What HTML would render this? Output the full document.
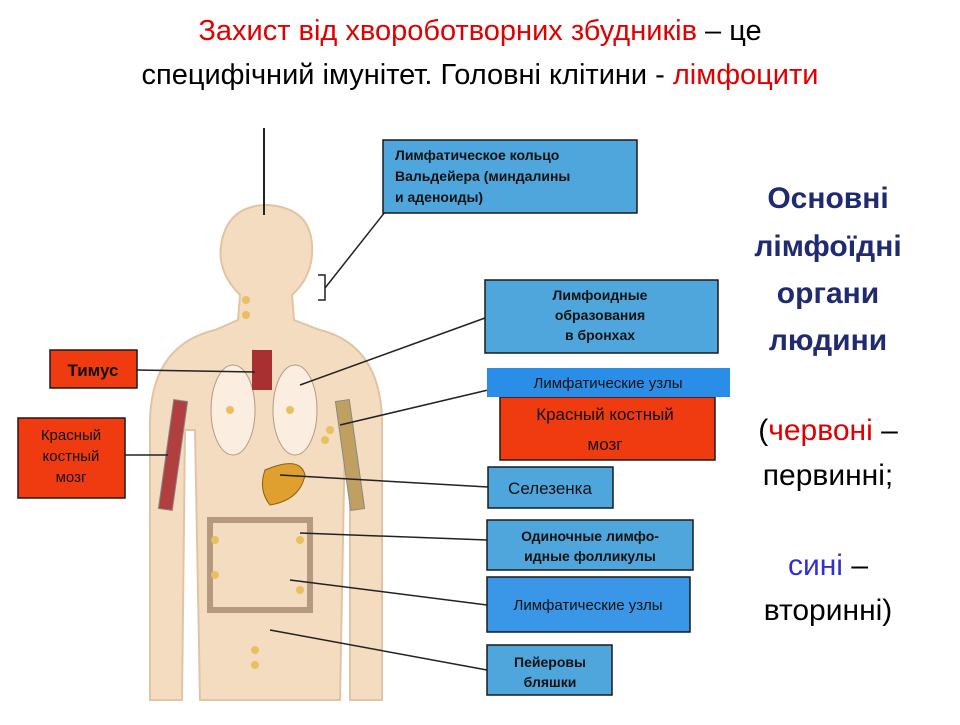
<!DOCTYPE html>
<html><head><meta charset="utf-8"><style>
body{margin:0;background:#fff;width:960px;height:720px;overflow:hidden;font-family:"Liberation Sans",sans-serif}
</style></head><body>
<svg width="960" height="720" xmlns="http://www.w3.org/2000/svg" font-family="Liberation Sans, sans-serif">
<text x="480" y="40" font-size="29" text-anchor="middle"><tspan fill="#e00000">Захист від хвороботворних збудників</tspan> – це</text>
<text x="480" y="84" font-size="29" text-anchor="middle">специфічний імунітет. Головні клітини - <tspan fill="#e00000">лімфоцити</tspan></text>
<!-- body -->
<g fill="#f3dcc0" stroke="#e2c4a4" stroke-width="2">
<path d="M150 700 L150 420 Q152 345 215 330 L238 320 L240 295 Q215 270 222 240 Q230 205 268 205 Q310 208 312 245 Q314 275 292 295 L294 320 L320 330 Q380 345 382 420 L382 700 L350 700 L350 430 L345 430 L340 700 L330 700 L330 700 L200 700 L195 430 L185 430 L182 700 Z"/>
</g>
<line x1="264" y1="128" x2="264" y2="215" stroke="#222" stroke-width="2"/>
<!-- lungs -->
<ellipse cx="233" cy="410" rx="22" ry="45" fill="#fbeee0" stroke="#b59a80"/>
<ellipse cx="295" cy="410" rx="22" ry="45" fill="#fbeee0" stroke="#b59a80"/>
<rect x="252" y="350" width="20" height="40" fill="#a83030"/>
<path d="M265 470 Q300 455 305 475 Q300 500 270 505 Q258 490 265 470Z" fill="#e0a030" stroke="#8a6010"/>
<rect x="210" y="520" width="100" height="90" fill="none" stroke="#b59a80" stroke-width="6"/>
<rect x="166" y="400" width="14" height="110" fill="#b04040" stroke="#888" transform="rotate(8 173 455)"/>
<rect x="343" y="400" width="14" height="110" fill="#c0a060" stroke="#888" transform="rotate(-8 350 455)"/>
<g fill="#e8c060">
<circle cx="246" cy="300" r="4"/><circle cx="246" cy="315" r="4"/><circle cx="230" cy="410" r="4"/><circle cx="290" cy="410" r="4"/><circle cx="330" cy="430" r="4"/><circle cx="325" cy="440" r="4"/><circle cx="215" cy="540" r="4"/><circle cx="300" cy="540" r="4"/><circle cx="215" cy="575" r="4"/><circle cx="300" cy="590" r="4"/><circle cx="255" cy="650" r="4"/><circle cx="255" cy="665" r="4"/>
</g>
<!-- connectors -->
<g stroke="#222" stroke-width="1.5" fill="none">
<path d="M318 275 L325 275 L325 300 L318 300"/>
<line x1="325" y1="288" x2="385" y2="212"/>
<line x1="300" y1="385" x2="485" y2="318"/>
<line x1="340" y1="425" x2="488" y2="390"/>
<line x1="280" y1="475" x2="488" y2="487"/>
<line x1="300" y1="533" x2="487" y2="540"/>
<line x1="290" y1="580" x2="487" y2="605"/>
<line x1="270" y1="630" x2="487" y2="670"/>
<line x1="137" y1="370" x2="255" y2="372"/>
<line x1="125" y1="455" x2="168" y2="455"/>
</g>
<!-- boxes -->
<g stroke="#1a1a1a" stroke-width="1.5">
<rect x="383" y="140" width="254" height="73" fill="#4ea6dc"/>
<rect x="485" y="280" width="233" height="73" fill="#4ea6dc"/>
<rect x="500" y="397" width="215" height="63" fill="#f03a10"/>
<rect x="487" y="368" width="243" height="29" fill="#2a8ee8" stroke="none"/>
<rect x="488" y="467" width="125" height="41" fill="#4ea6dc"/>
<rect x="487" y="520" width="206" height="50" fill="#4ea6dc"/>
<rect x="487" y="577" width="203" height="55" fill="#3a96e6"/>
<rect x="487" y="645" width="125" height="50" fill="#4ea6dc"/>
<rect x="50" y="350" width="87" height="38" fill="#f03a10"/>
<rect x="18" y="418" width="107" height="80" fill="#f03a10"/>
</g>
<g font-size="14" font-weight="bold" fill="#111" text-anchor="middle">
<text x="500" y="160" text-anchor="start" x="395"><tspan x="395" text-anchor="start">Лимфатическое кольцо</tspan><tspan x="395" dy="21">Вальдейера (миндалины</tspan><tspan x="395" dy="21">и аденоиды)</tspan></text>
<text x="600" y="300">Лимфоидные<tspan x="600" dy="20">образования</tspan><tspan x="600" dy="20">в бронхах</tspan></text>
<text x="608" y="388" font-size="15" font-weight="normal">Лимфатические узлы</text>
<text x="605" y="420" font-size="17" font-weight="normal">Красный костный</text>
<text x="605" y="450" font-size="17" font-weight="normal">мозг</text>
<text x="550" y="494" font-size="17" font-weight="normal">Селезенка</text>
<text x="590" y="541">Одиночные лимфо-<tspan x="590" dy="20">идные фолликулы</tspan></text>
<text x="588" y="610" font-size="15" font-weight="normal">Лимфатические узлы</text>
<text x="550" y="667">Пейеровы<tspan x="550" dy="20">бляшки</tspan></text>
<text x="93" y="376" font-size="17">Тимус</text>
<text x="71" y="440" font-size="15" font-weight="normal">Красный<tspan x="71" dy="21">костный</tspan><tspan x="71" dy="21">мозг</tspan></text>
</g>
<g font-size="30" text-anchor="middle">
<g fill="#1f2a70" font-weight="bold"><text x="828" y="208">Основні</text><text x="828" y="256">лімфоїдні</text><text x="828" y="303">органи</text><text x="828" y="350">людини</text></g>
<text x="828" y="440">(<tspan fill="#e00000">червоні</tspan> –</text>
<text x="828" y="485">первинні;</text>
<text x="828" y="575"><tspan fill="#3030d0">сині</tspan>      –</text>
<text x="828" y="620">вторинні)</text>
</g>
</svg>
</body></html>
